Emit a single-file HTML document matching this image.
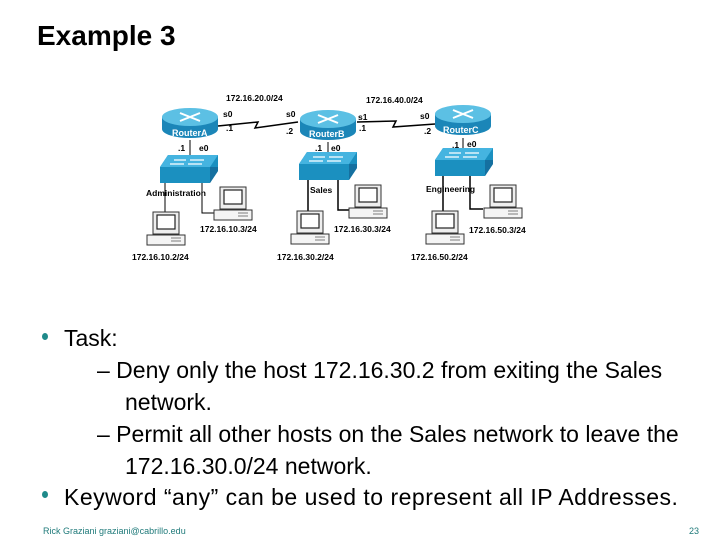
<!DOCTYPE html>
<html><head><style>
body{margin:0;width:720px;height:540px;background:#fff;position:relative;overflow:hidden;font-family:"Liberation Sans",Arial,sans-serif}
.t{position:absolute;white-space:nowrap;color:#000}
.b{position:absolute;width:6px;height:7px;border-radius:50%;background:#1f8a8a}
</style></head><body>
<div class="t" style="left:37px;top:20px;font-size:28px;font-weight:bold">Example 3</div>

<svg width="720" height="540" style="position:absolute;left:0;top:0" font-family="Liberation Sans,Arial,sans-serif" font-weight="bold" font-size="8.5">
<defs>
<g id="router">
<path d="M-28,0 V12 A28,9 0 0 0 28,12 V0 Z" fill="#1b86b8"/>
<ellipse cx="0" cy="0" rx="28" ry="9" fill="#5cc0e4"/>
<path d="M-10,-4 L10,4 M10,-4 L-10,4" stroke="#fff" stroke-width="2"/>
</g>
<g id="switch">
<path d="M0,12 L8,0 H58 L58,0 L58,16 L50,28 H0 Z" fill="#1b90c0"/>
<path d="M0,12 L8,0 H58 L50,12 Z" fill="#45b4e0"/>
<path d="M50,12 H58 V16 L50,28 Z" fill="#1570a0"/>
<path d="M14,5 H26 M30,5 H44 M10,9 H24 M28,9 H42" stroke="#fff" stroke-width="1.3"/>
</g>
<g id="pc">
<rect x="6" y="0" width="26" height="22" fill="#eee" stroke="#333" stroke-width="1"/>
<rect x="10" y="3" width="18" height="14" fill="#fff" stroke="#222" stroke-width="1.2"/>
<rect x="0" y="23" width="38" height="10" fill="#f4f4f4" stroke="#333" stroke-width="1"/>
<path d="M24,26 H34 M24,29 H34" stroke="#555" stroke-width="0.8"/>
</g>
</defs>
<path d="M218,126 L258,122 L255,128 L298,122" stroke="#000" stroke-width="1.5" fill="none"/>
<path d="M357,122 L396,121 L393,127 L435,124" stroke="#000" stroke-width="1.5" fill="none"/>
<line x1="190" y1="140" x2="190" y2="156" stroke="#000"/>
<line x1="328" y1="142" x2="328" y2="156" stroke="#000"/>
<line x1="463" y1="138" x2="463" y2="151" stroke="#000"/>
<path d="M165,183 V232 M202,183 V213 H215" stroke="#000" fill="none"/>
<path d="M308,179 V212 M338,179 V210 H350" stroke="#000" fill="none" stroke-width="1.5"/>
<path d="M443,175 V212 M470,175 V209 H483" stroke="#000" fill="none" stroke-width="1.5"/>
<use href="#router" x="190" y="117"/>
<use href="#router" x="328" y="119"/>
<use href="#router" x="463" y="114"/>
<g fill="#fff" font-size="9"><text x="172" y="136">RouterA</text><text x="309" y="137">RouterB</text><text x="443" y="133">RouterC</text></g>
<use href="#switch" x="160" y="155"/>
<use href="#switch" x="299" y="152"/>
<use href="#switch" x="435" y="148"/>
<use href="#pc" x="147" y="212"/>
<use href="#pc" x="214" y="187"/>
<use href="#pc" x="291" y="211"/>
<use href="#pc" x="349" y="185"/>
<use href="#pc" x="426" y="211"/>
<use href="#pc" x="484" y="185"/>
<text x="226" y="101">172.16.20.0/24</text>
<text x="366" y="103">172.16.40.0/24</text>
<text x="223" y="117">s0</text><text x="286" y="117">s0</text>
<text x="358" y="120">s1</text><text x="420" y="119">s0</text>
<text x="226" y="131">.1</text><text x="286" y="134">.2</text>
<text x="359" y="131">.1</text><text x="424" y="134">.2</text>
<text x="178" y="151">.1</text><text x="199" y="151">e0</text>
<text x="315" y="151">.1</text><text x="331" y="151">e0</text>
<text x="452" y="148">.1</text><text x="467" y="147">e0</text>
<text x="146" y="196">Administration</text>
<text x="310" y="193">Sales</text>
<text x="426" y="192">Engineering</text>
<text x="200" y="232">172.16.10.3/24</text>
<text x="334" y="232">172.16.30.3/24</text>
<text x="469" y="233">172.16.50.3/24</text>
<text x="132" y="260">172.16.10.2/24</text>
<text x="277" y="260">172.16.30.2/24</text>
<text x="411" y="260">172.16.50.2/24</text>
</svg>

<div class="b" style="left:42px;top:333px"></div>
<div class="t" style="left:64px;top:325px;font-size:23px">Task:</div>
<div class="t" style="left:97px;top:357px;font-size:23px">– Deny only the host 172.16.30.2 from exiting the Sales</div>
<div class="t" style="left:125px;top:389px;font-size:23px">network.</div>
<div class="t" style="left:97px;top:421px;font-size:23px">– Permit all other hosts on the Sales network to leave the</div>
<div class="t" style="left:125px;top:453px;font-size:23px">172.16.30.0/24 network.</div>
<div class="b" style="left:42px;top:491px"></div>
<div class="t" style="left:64px;top:484px;font-size:23px;letter-spacing:0.5px">Keyword “any” can be used to represent all IP Addresses.</div>
<div class="t" style="left:43px;top:526px;font-size:9px;color:#1f7a7a">Rick Graziani graziani@cabrillo.edu</div>
<div class="t" style="left:689px;top:526px;font-size:9px;color:#1f7a7a">23</div>
</body></html>
